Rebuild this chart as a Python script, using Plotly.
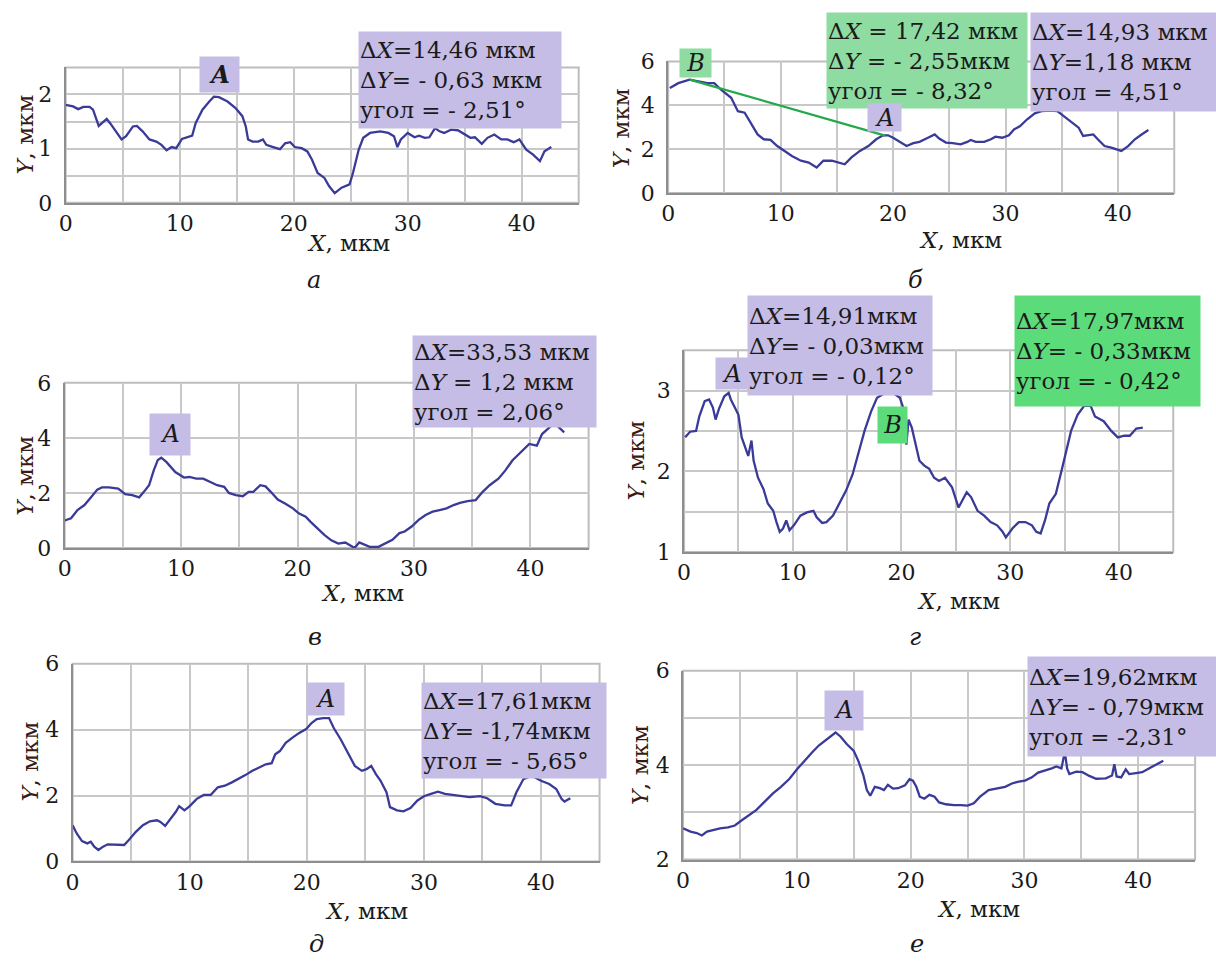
import plotly.graph_objects as go

W, H = 1216, 965

# ---------------- data ----------------
a_x = [0, 0.65, 1.1, 1.55, 2.1, 2.4, 2.9, 3.2, 3.6, 3.9, 4.4, 4.9, 5.3, 5.9, 6.25, 6.75, 7.35, 7.95, 8.4, 8.85,
       9.3, 9.7, 10.2, 10.6, 11.1, 11.4, 12.0, 12.6, 13.0, 13.45, 14.2, 14.9, 15.5, 15.8, 16.0, 16.4, 16.9, 17.3,
       17.6, 18.2, 18.8, 19.25, 19.7, 20.1, 20.7, 21.2, 21.6, 22.1, 22.7, 23.1, 23.6, 24.2, 24.9, 25.2, 25.7,
       26.1, 26.7, 27.6, 28.3, 28.8, 29.1, 29.4, 30.0, 30.6, 31.0, 31.5, 31.9, 32.4, 32.8, 33.2, 33.8, 34.4,
       34.9, 35.5, 35.9, 36.5, 37.0, 37.6, 38.2, 38.75, 39.3, 39.8, 40.4, 41.0, 41.6, 42.0, 42.6]
a_y = [1.81, 1.78, 1.73, 1.77, 1.77, 1.72, 1.42, 1.47, 1.55, 1.47, 1.32, 1.17, 1.23, 1.41, 1.42, 1.32, 1.17, 1.13,
       1.07, 0.97, 1.03, 1.01, 1.18, 1.21, 1.24, 1.47, 1.72, 1.87, 1.96, 1.95, 1.87, 1.75, 1.60, 1.41, 1.17, 1.13,
       1.13, 1.17, 1.07, 1.03, 0.99, 1.10, 1.12, 1.03, 1.01, 0.95, 0.80, 0.55, 0.46, 0.31, 0.18, 0.28, 0.34, 0.55,
       0.98, 1.20, 1.29, 1.32, 1.29, 1.23, 1.03, 1.17, 1.29, 1.21, 1.24, 1.20, 1.21, 1.38, 1.32, 1.29, 1.35, 1.34,
       1.28, 1.20, 1.21, 1.09, 1.20, 1.26, 1.17, 1.17, 1.12, 1.17, 0.98, 0.89, 0.77, 0.95, 1.03]

b_x = [0.15, 0.9, 1.9, 2.65, 3.5, 4.1, 4.7, 5.6, 6.2, 6.8, 7.35, 7.95, 8.5, 9.1, 9.7, 10.3, 11.0, 11.8, 12.5, 13.2,
       13.8, 14.55, 15.15, 15.7, 16.3, 17.05, 17.8, 18.5, 19.1, 19.55, 20.0, 20.6, 21.2, 21.8, 22.35, 23.1, 23.7,
       24.1, 24.7, 25.3, 26.0, 26.6, 26.9, 27.35, 28.1, 28.7, 29.1, 29.7, 30.3, 30.75, 31.3, 31.9, 32.6, 33.2, 34.0,
       34.6, 35.15, 35.9, 36.5, 36.9, 37.35, 37.8, 38.2, 38.8, 39.4, 40.0, 40.3, 40.9, 41.5, 42.1, 42.7]
b_y = [4.79, 5.01, 5.17, 5.09, 5.01, 5.01, 4.71, 4.34, 3.73, 3.66, 3.2, 2.67, 2.45, 2.42, 2.14, 1.92, 1.69, 1.47,
       1.39, 1.16, 1.47, 1.47, 1.39, 1.31, 1.62, 1.92, 2.14, 2.45, 2.63, 2.63, 2.52, 2.33, 2.14, 2.27, 2.33, 2.52,
       2.67, 2.48, 2.30, 2.27, 2.22, 2.33, 2.42, 2.33, 2.33, 2.45, 2.57, 2.52, 2.63, 2.9, 3.05, 3.35, 3.63, 3.73,
       3.76, 3.73, 3.5, 3.23, 2.98, 2.6, 2.63, 2.67, 2.45, 2.14, 2.07, 1.96, 1.92, 2.14, 2.45, 2.67, 2.87]
b_seg_x = [1.9, 19.3]
b_seg_y = [5.17, 2.62]

c_x = [0, 0.55, 1.1, 1.7, 2.3, 2.8, 3.2, 3.8, 4.6, 5.2, 5.8, 6.4, 6.8, 7.25, 7.65, 8.0, 8.3, 8.75, 9.5, 10.25,
       10.7, 11.3, 11.9, 12.5, 13.1, 13.7, 14.1, 14.7, 15.3, 15.8, 16.2, 16.8, 17.25, 17.7, 18.3, 19.0, 19.6, 20.1,
       20.7, 21.1, 21.7, 22.3, 22.9, 23.5, 24.1, 24.6, 24.9, 25.3, 25.75, 26.2, 26.95, 27.55, 28.15, 28.75, 29.2,
       29.8, 30.4, 31.0, 31.6, 32.2, 32.8, 33.4, 33.95, 34.6, 35.3, 35.9, 36.5, 37.25, 37.85, 38.45, 39.2, 39.9,
       40.55, 41.0, 41.4, 41.9, 42.3, 42.9]
c_y = [1.0, 1.08, 1.38, 1.56, 1.86, 2.12, 2.2, 2.2, 2.16, 1.96, 1.92, 1.84, 2.04, 2.28, 2.82, 3.2, 3.28, 3.12,
       2.76, 2.56, 2.58, 2.52, 2.52, 2.4, 2.28, 2.22, 2.0, 1.92, 1.88, 2.04, 2.04, 2.28, 2.24, 2.04, 1.76, 1.6,
       1.44, 1.26, 1.14, 0.96, 0.72, 0.48, 0.28, 0.16, 0.2, 0.08, 0.0, 0.2, 0.12, 0.04, 0.04, 0.16, 0.3, 0.54,
       0.6, 0.78, 1.02, 1.2, 1.32, 1.38, 1.44, 1.56, 1.64, 1.7, 1.74, 2.04, 2.28, 2.52, 2.82, 3.18, 3.48, 3.78,
       3.72, 4.14, 4.29, 4.48, 4.44, 4.2]

d_x = [0.1, 0.55, 1.1, 1.4, 1.9, 2.3, 2.65, 2.9, 3.2, 3.7, 4.1, 4.3, 4.6, 5.0, 5.3, 5.6, 5.9, 6.2, 6.4, 6.8,
       7.3, 7.7, 8.2, 8.5, 8.8, 9.1, 9.4, 9.7, 10.1, 10.7, 11.3, 11.9, 12.2, 12.7, 13.1, 13.7, 14.3, 14.9, 15.5,
       16.0, 16.6, 17.2, 17.75, 18.5, 19.25, 19.85, 20.15, 20.45, 20.65, 20.95, 21.35, 21.65, 22.1, 22.55, 23.0,
       23.45, 24.0, 24.65, 25.25, 26.0, 26.4, 27.0, 27.6, 28.2, 28.8, 29.3, 29.6, 30.2, 30.8, 31.4, 32.0, 32.4,
       32.8, 33.2, 33.6, 34.2, 34.8, 35.6, 36.2, 36.8, 37.4, 37.8, 38.6, 39.3, 39.9, 40.5, 41.0, 41.6, 42.2]
d_y = [2.42, 2.49, 2.5, 2.68, 2.87, 2.89, 2.79, 2.64, 2.77, 2.93, 2.97, 2.89, 2.81, 2.70, 2.42, 2.29, 2.19, 2.38,
       2.13, 1.92, 1.78, 1.6, 1.51, 1.37, 1.25, 1.29, 1.39, 1.27, 1.33, 1.45, 1.49, 1.51, 1.43, 1.36, 1.37, 1.45,
       1.6, 1.76, 1.96, 2.21, 2.5, 2.74, 2.91, 2.97, 2.97, 2.91, 2.79, 2.33, 2.64, 2.54, 2.29, 2.13, 2.07, 2.03,
       1.92, 1.88, 1.92, 1.8, 1.55, 1.74, 1.68, 1.51, 1.45, 1.37, 1.33, 1.25, 1.18, 1.29, 1.37, 1.37, 1.33, 1.25,
       1.23, 1.39, 1.6, 1.72, 2.05, 2.5, 2.7, 2.81, 2.81, 2.68, 2.62, 2.5, 2.42, 2.44, 2.44, 2.53, 2.54]

e_x = [0, 0.35, 0.8, 1.25, 1.55, 1.85, 2.2, 2.6, 3.0, 3.8, 4.4, 4.8, 5.4, 6.0, 6.6, 7.2, 7.5, 7.9, 8.4, 8.8,
       9.1, 9.55, 10.0, 10.6, 11.2, 11.8, 12.4, 13.0, 13.6, 14.15, 14.75, 15.35, 15.9, 16.5, 17.0, 17.3, 17.7,
       18.2, 18.75, 19.35, 19.95, 20.4, 20.85, 21.4, 21.9, 22.3, 22.9, 23.5, 24.1, 24.7, 25.1, 25.5, 25.9, 26.3,
       26.8, 27.1, 27.7, 28.25, 28.85, 29.45, 30.0, 30.6, 31.2, 31.8, 32.4, 33.0, 33.9, 34.8, 35.4, 36.1, 36.9,
       37.45, 37.9, 38.5, 39.2, 40.0, 40.7, 41.3, 41.75, 42.0, 42.5]
e_y = [1.1, 0.85, 0.62, 0.55, 0.6, 0.45, 0.35, 0.45, 0.52, 0.5, 0.5, 0.65, 0.9, 1.1, 1.22, 1.25, 1.2, 1.08, 1.3,
       1.5, 1.68, 1.55, 1.68, 1.9, 2.02, 2.02, 2.25, 2.3, 2.4, 2.5, 2.62, 2.75, 2.85, 2.95, 2.98, 3.25, 3.35, 3.6,
       3.75, 3.9, 4.02, 4.2, 4.32, 4.35, 4.35, 4.05, 3.7, 3.3, 2.9, 2.75, 2.8, 2.9, 2.65, 2.45, 2.1, 1.65, 1.55,
       1.52, 1.62, 1.85, 1.98, 2.05, 2.12, 2.05, 2.02, 1.98, 1.95, 1.98, 1.92, 1.75, 1.7, 1.7, 2.1, 2.5, 2.6,
       2.45, 2.35, 2.2, 1.9, 1.82, 1.92]

f_x = [0, 0.65, 1.2, 1.65, 2.1, 2.65, 3.25, 3.95, 4.55, 5.1, 5.7, 6.45, 7.15, 7.9, 8.6, 9.35, 10.05, 10.8,
       11.35, 11.95, 12.5, 13.1, 13.4, 13.85, 14.4, 15.0, 15.4, 15.85, 16.15, 16.45, 16.85, 17.3, 17.65, 18.0,
       18.45, 18.9, 19.5, 19.9, 20.2, 20.5, 20.8, 21.2, 21.65, 22.1, 22.5, 23.1, 23.8, 24.4, 25.0, 25.55, 26.1,
       26.85, 27.6, 28.3, 28.9, 29.5, 30.05, 30.65, 31.2, 31.8, 32.4, 32.8, 33.25, 33.55, 33.75, 33.95, 34.55,
       35.1, 35.7, 36.3, 37.15, 37.7, 37.9, 38.1, 38.5, 38.9, 39.2, 39.8, 40.35, 41.1, 41.65, 42.2]
f_y = [2.66, 2.59, 2.56, 2.51, 2.59, 2.63, 2.66, 2.68, 2.72, 2.82, 2.93, 3.05, 3.22, 3.4, 3.54, 3.71, 3.92, 4.13,
       4.27, 4.42, 4.53, 4.65, 4.69, 4.6, 4.44, 4.3, 4.09, 3.78, 3.47, 3.35, 3.54, 3.51, 3.47, 3.58, 3.5, 3.51,
       3.57, 3.7, 3.67, 3.54, 3.33, 3.29, 3.37, 3.33, 3.21, 3.17, 3.15, 3.15, 3.14, 3.19, 3.33, 3.47, 3.51, 3.54,
       3.61, 3.65, 3.67, 3.74, 3.84, 3.88, 3.93, 3.97, 3.93, 4.28, 3.93, 3.81, 3.86, 3.85, 3.77, 3.71, 3.72, 3.78,
       4.02, 3.76, 3.74, 3.91, 3.81, 3.83, 3.85, 3.95, 4.02, 4.09]

x_ticks = [0, 10, 20, 30, 40]
panel_letters = ["а", "б", "в", "г", "д", "е"]

box_a = ["Δ<i>X</i>=14,46 мкм", "Δ<i>Y</i>= - 0,63 мкм", "угол = - 2,51°"]
box_b1 = ["Δ<i>X</i> = 17,42 мкм", "Δ<i>Y</i> = - 2,55мкм", "угол = - 8,32°"]
box_b2 = ["Δ<i>X</i>=14,93 мкм", "Δ<i>Y</i>=1,18 мкм", "угол = 4,51°"]
box_c = ["Δ<i>X</i>=33,53 мкм", "Δ<i>Y</i> = 1,2 мкм", "угол = 2,06°"]
box_d1 = ["Δ<i>X</i>=14,91мкм", "Δ<i>Y</i>= - 0,03мкм", "угол = - 0,12°"]
box_d2 = ["Δ<i>X</i>=17,97мкм", "Δ<i>Y</i>= - 0,33мкм", "угол = - 0,42°"]
box_e = ["Δ<i>X</i>=17,61мкм", "Δ<i>Y</i>= -1,74мкм", "угол = - 5,65°"]
box_f = ["Δ<i>X</i>=19,62мкм", "Δ<i>Y</i>= - 0,79мкм", "угол = -2,31°"]

# ---------------- styles / layout ----------------
LINE = "#3a3a98"
GRID = "#c8c8c8"
AXL = "#8e8e8e"
PURPLE = "#c6bde6"
GREEN1 = "#8edca2"
GREEN2 = "#5cdb7a"
SERIF = "DejaVu Serif"
TXT = "#1a1a1a"


def px(x):          # layout x (pixels) -> paper
    return ((x - 4) / 0.995) / W


def py(y):          # layout y (pixels) -> paper
    return 1 - ((y - 6) / 0.985) / H


def pxt(x):
    return x / W


# plot rectangles: x in final pixels, y in layout pixels
panels = [
    dict(x=a_x, y=a_y, rect=(59, 62, 575, 199), yr=[0, 2.5], dt=1, minor=0.5,
         xt=(346, 240), yt=(22, 130), lt=(311, 277)),
    dict(x=b_x, y=b_y, rect=(665, 56, 1174, 189), yr=[0, 6], dt=2, minor=None,
         xt=(958, 237), yt=(618, 124), lt=(913, 277)),
    dict(x=c_x, y=c_y, rect=(58, 381, 585, 548), yr=[0, 6], dt=2, minor=None,
         xt=(360, 594), yt=(22, 475), lt=(312, 638)),
    dict(x=d_x, y=d_y, rect=(681, 348, 1173, 552), yr=[1, 3.5], dt=1, minor=0.5,
         xt=(956, 602), yt=(633, 460), lt=(913, 638)),
    dict(x=e_x, y=e_y, rect=(66, 665, 596, 865), yr=[0, 6], dt=2, minor=None,
         xt=(364, 915), yt=(27, 764), lt=(314, 948)),
    dict(x=f_x, y=f_y, rect=(680, 672, 1195, 863), yr=[2, 6], dt=2, minor=1,
         xt=(976, 913), yt=(637, 768), lt=(915, 948)),
]

fig = go.Figure()
lay = {}
for i, p in enumerate(panels):
    n = "" if i == 0 else str(i + 1)
    L, T, R, B = p["rect"]
    fig.add_trace(go.Scatter(x=p["x"], y=p["y"], mode="lines",
                             line=dict(color=LINE, width=2.3), xaxis="x" + n, yaxis="y" + n,
                             showlegend=False, hoverinfo="skip"))
    xa = dict(domain=[pxt(L), pxt(R)], range=[0, 45], anchor="y" + n, tickmode="array",
              tickvals=x_ticks, showgrid=True, gridcolor=GRID, gridwidth=1.6, zeroline=False,
              showline=True, linecolor=AXL, linewidth=2, mirror=False, ticks="",
              ticklabelstandoff=0, tickfont=dict(family=SERIF, size=22, color=TXT),
              minor=dict(tick0=0, dtick=5, showgrid=True, gridcolor=GRID, gridwidth=1.6),
              fixedrange=True)
    ya = dict(domain=[py(B), py(T)], range=p["yr"], anchor="x" + n, tick0=0, dtick=p["dt"],
              showgrid=True, gridcolor=GRID, gridwidth=1.6, zeroline=False, showline=True,
              linecolor=AXL, linewidth=2, ticks="", ticklabelstandoff=7,
              tickfont=dict(family=SERIF, size=22, color=TXT), fixedrange=True)
    if p["minor"]:
        ya["minor"] = dict(tick0=0, dtick=p["minor"], showgrid=True, gridcolor=GRID, gridwidth=1.6)
    lay["xaxis" + n] = xa
    lay["yaxis" + n] = ya
    p["px_per_x"] = (R - L) / 45.0
    p["px_per_y"] = ((B - T) / 0.985) / (p["yr"][1] - p["yr"][0])
    fig.add_shape(type="rect", xref="paper", yref="paper", x0=pxt(L), x1=pxt(R),
                  y0=py(B), y1=py(T), line=dict(color="#bdbdbd", width=2), layer="below")
    fig.add_annotation(xref="paper", yref="paper", x=px(p["xt"][0]), y=py(p["xt"][1]),
                       text="<i>X</i>, мкм", showarrow=False, xanchor="center", yanchor="middle",
                       font=dict(family=SERIF, size=23, color=TXT))
    fig.add_annotation(xref="paper", yref="paper", x=px(p["yt"][0]), y=py(p["yt"][1]),
                       text="<i>Y</i>, мкм", showarrow=False, textangle=-90, xanchor="center",
                       yanchor="middle", font=dict(family=SERIF, size=23, color="#3a1a12"))
    fig.add_annotation(xref="paper", yref="paper", x=px(p["lt"][0]), y=py(p["lt"][1]),
                       text="<i>%s</i>" % panel_letters[i], showarrow=False, xanchor="center",
                       yanchor="middle", font=dict(family=SERIF, size=24, color=TXT))

fig.add_trace(go.Scatter(x=b_seg_x, y=b_seg_y, mode="lines", line=dict(color="#23a84a", width=2.3),
                         xaxis="x2", yaxis="y2", showlegend=False, hoverinfo="skip"))


def box(lines, rect, color, size=23):
    L, T, R, B = rect
    pad = 1
    wpx = (R - L) / 0.995
    hpx = (B - T) / 0.985
    fig.add_annotation(xref="paper", yref="paper", x=px(L), y=py(T), xanchor="left",
                       yanchor="top", text="<br>".join(lines), showarrow=False, bgcolor=color,
                       width=wpx - 2 * pad, height=hpx - 2 * pad, borderpad=pad, align="left",
                       valign="middle", font=dict(family=SERIF, size=size, color=TXT))


def tag(letter, k, x0, x1, y_top, y_bot, color, bold=False):
    # anchored at its bottom edge (inside the axis range) so it is always drawn
    p = panels[k]
    n = "" if k == 0 else str(k + 1)
    pad = 1
    t = "<i>%s</i>" % letter
    if bold:
        t = "<b>%s</b>" % t
    fig.add_annotation(xref="x" + n, yref="y" + n, x=x0, y=y_bot, xanchor="left",
                       yanchor="bottom", text=t, showarrow=False, bgcolor=color,
                       width=(x1 - x0) * p["px_per_x"] - 2 * pad,
                       height=(y_top - y_bot) * p["px_per_y"] - 2 * pad, borderpad=pad,
                       align="center", valign="middle", font=dict(family=SERIF, size=24, color=TXT))


box(box_a, (355, 25, 556, 120), PURPLE)
box(box_b1, (824, 6, 1023, 100), GREEN1)
box(box_b2, (1028, 6, 1213, 103), PURPLE)
box(box_c, (409, 333, 591, 423), PURPLE)
box(box_d1, (745, 292, 928, 390), PURPLE)
box(box_d2, (1012, 292, 1196, 400), GREEN2)
box(box_e, (418, 683, 601, 777), PURPLE)
box(box_f, (1025, 657, 1213, 755), PURPLE)

# letter tags, placed in data units of their panel
tag("A", 0, 11.71, 15.14, 2.664, 2.026, PURPLE, bold=True)
tag("B", 1, 0.98, 3.75, 6.496, 5.233, GREEN1)
tag("A", 1, 17.68, 20.63, 4.015, 2.797, PURPLE)
tag("A", 2, 7.24, 10.69, 4.778, 3.341, PURPLE)
tag("A", 3, 2.84, 5.76, 3.39, 3.01, PURPLE)
tag("B", 3, 17.74, 20.40, 2.765, 2.336, GREEN2)
tag("A", 4, 19.93, 23.07, 5.37, 4.41, PURPLE)
tag("A", 5, 12.40, 15.68, 5.518, 4.723, PURPLE)

fig.update_layout(width=W, height=H, margin=dict(l=0, r=0, t=0, b=0), paper_bgcolor="white",
                  plot_bgcolor="white", showlegend=False, hovermode=False, **lay)

fig.write_html("out.html", config={"displayModeBar": False},
               post_script="document.body.style.margin='0';document.body.style.overflow='hidden';")
